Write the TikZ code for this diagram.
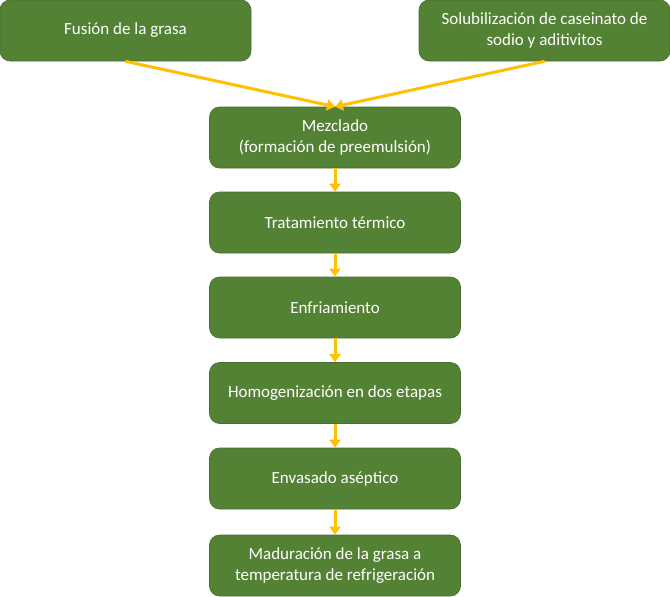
\documentclass[tikz,border=0pt]{standalone}
\usepackage{fontspec}
\setmainfont{Carlito}
\usetikzlibrary{arrows.meta, positioning}
\definecolor{cgreen}{HTML}{548235}
\definecolor{cgold}{HTML}{FFC000}
\tikzset{
  every picture/.style={line width=1.2pt},
  box/.style={draw=cgreen!85!black, line width=0.6pt, fill=cgreen, text=white, rounded corners=10pt, align=center,
    minimum width=251pt, minimum height=61pt, inner sep=4pt, font=\fontsize{17}{20.5}\selectfont},
  arrow/.style={-{Triangle[length=8pt, width=11pt]}, draw=cgold, line width=3pt},
}

\begin{document}
\begin{tikzpicture}[x=1pt, y=-1pt]
  \useasboundingbox (0,0) rectangle (670,597);
  \node[box] (fusion) at (125.5, 30.5) {Fusión de la grasa};
  \node[box] (solub) at (544.5, 30.5) {Solubilización de caseinato de\\sodio y aditivitos};
  \node[box] (mezcla) at (335, 137.5) {Mezclado\\(formación de preemulsión)};
  \node[box] (trat) at (335, 222.5) {Tratamiento térmico};
  \node[box] (enfr) at (335, 307.5) {Enfriamiento};
  \node[box] (homo) at (335, 393) {Homogenización en dos etapas};
  \node[box] (envas) at (335, 478.5) {Envasado aséptico};
  \node[box] (madur) at (335, 565.5) {Maduración de la grasa a\\temperatura de refrigeración};
  \draw[arrow] (fusion.south) -- (mezcla.north);
  \draw[arrow] (solub.south) -- (mezcla.north);
  \draw[arrow] (mezcla) -- (trat);
  \draw[arrow] (trat) -- (enfr);
  \draw[arrow] (enfr) -- (homo);
  \draw[arrow] (homo) -- (envas);
  \draw[arrow] (envas) -- (madur);
\end{tikzpicture}
\end{document}
